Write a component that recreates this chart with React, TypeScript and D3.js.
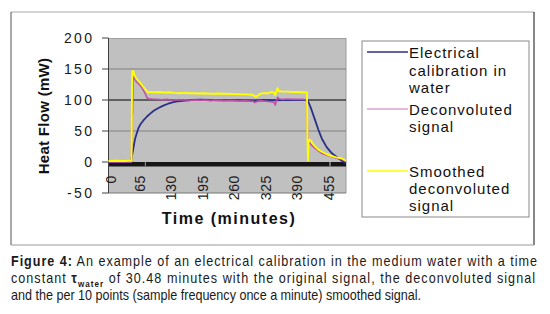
import React from "react";
import * as d3 from "d3";

const blueSeries: [number, number][] = [
  [0, 0], [20, 0], [40, 0], [46.5, 0], [48, 8], [51, 21], [55, 38], [61.5, 54], [66, 61], [72, 67],
  [79, 73], [86, 78], [94, 83], [103, 87], [113, 91], [123, 94], [134, 96.5], [144, 98], [158, 99],
  [172, 100], [190, 100.5], [210, 100], [230, 99.5], [250, 100], [270, 99.5], [290, 99], [302, 98],
  [310, 99], [320, 100], [340, 99.5], [360, 100], [380, 100], [400, 100], [411, 100], [413, 96],
  [419, 84], [426, 68], [433, 52], [440, 38], [450, 24], [461, 14], [474, 6], [483, 1], [490, -2],
];

const pinkSeries: [number, number][] = [
  [0, 0], [20, 0], [40, 0], [47.5, 0], [48, 72], [49.5, 78], [50.5, 130], [51.5, 138], [54, 134],
  [58, 129], [65, 124], [72, 116], [76, 110], [79, 104], [83, 102], [90, 101.5], [100, 101],
  [110, 100.5], [120, 101], [130, 100], [140, 100.5], [150, 100], [160, 100.5], [170, 99.5],
  [180, 100], [190, 99.5], [200, 100], [210, 99], [220, 100], [230, 99.5], [240, 99], [250, 99.5],
  [260, 99], [270, 98.5], [280, 99], [290, 98.5], [298, 98], [302, 96], [306, 97.5], [313, 99],
  [320, 98.5], [330, 97.5], [337, 97], [342, 95.5], [344, 92], [347, 100], [349, 104.5],
  [352, 101.5], [360, 101], [370, 101.5], [380, 101], [390, 101], [400, 101], [409, 100.5],
  [410, 70], [411, 40], [412, 33], [415, 31], [418, 28], [426, 22], [433, 18], [440, 14],
  [450, 11], [461, 8.6], [471, 6], [481, 4.3], [490, 1],
];

const yellowSeries: [number, number][] = [
  [0, 1.5], [15, 2], [30, 1.5], [45, 2], [47.5, 2], [48, 75], [49, 146], [51, 147], [53, 141],
  [58, 134], [62, 131], [65, 128], [69, 124], [72, 121], [76, 117], [79, 114], [82, 112], [86, 113],
  [95, 112.5], [105, 113], [115, 112], [125, 112.5], [135, 111.5], [145, 111], [155, 111.5],
  [165, 111], [175, 111], [185, 110.5], [195, 111], [205, 110.5], [215, 110], [225, 110.5],
  [235, 110], [245, 110], [255, 109.5], [265, 109.5], [275, 109], [285, 109], [295, 108.5],
  [300, 107], [304, 105], [308, 107], [313, 110], [320, 111], [330, 111], [337, 113], [341, 112],
  [344, 108], [347, 115], [349, 119], [352, 114], [360, 113.5], [370, 113.5], [380, 113],
  [390, 113], [400, 112.5], [409.5, 112], [410.5, 40], [411.5, 2], [412.5, 30], [414, 36],
  [417, 35], [420, 31], [426, 25], [433, 20], [440, 16.6], [450, 12.5], [460, 9.7], [470, 7.5],
  [481, 6], [490, 2],
];

const xTicks = [0, 65, 130, 195, 260, 325, 390, 455];
const yTicks = [-50, 0, 50, 100, 150, 200];
const gridGray = [50, 150];
const gridBlack = [100];

const legendItems = [
  { color: "#2b2f86", lines: ["Electrical", "calibration in", "water"], lineY: 52, baselines: [58, 75.5, 93] },
  { color: "#d070b8", lines: ["Deconvoluted", "signal"], lineY: 109, baselines: [115, 132] },
  { color: "#ffff00", lines: ["Smoothed", "deconvoluted", "signal"], lineY: 171, baselines: [177, 194, 211] },
];

const seriesColors = ["#2b2f86", "#c050a8", "#ffff00"];

const FONT = "Arial, 'Liberation Sans', Helvetica, sans-serif";
const CAP_SCALE = 0.9;

export default function App() {
  const x = d3.scaleLinear().domain([0, 490]).range([108.5, 346]);
  const y = d3.scaleLinear().domain([-50, 200]).range([193, 38]);
  const line = d3
    .line<[number, number]>()
    .x((d) => x(d[0]))
    .y((d) => y(d[1]));

  const [x0, x1] = x.range();
  const [yb, yt] = y.range();

  return (
    <svg
      width={550}
      height={314}
      style={{ position: "absolute", left: 0, top: 0, background: "#fff" }}
      fontFamily={FONT}
    >
      {/* outer frame */}
      <line x1={11} y1={12} x2={534} y2={12} stroke="#a8a8a8" />
      <line x1={11} y1={12} x2={11} y2={245} stroke="#555" />
      <line x1={534} y1={12} x2={534} y2={245} stroke="#111" />
      <line x1={11} y1={245} x2={534} y2={245} stroke="#999" />

      {/* plot area */}
      <rect x={x0} y={yt} width={x1 - x0} height={yb - yt} fill="#c0c0c0" />
      <line x1={x0} y1={yt + 0.5} x2={x1} y2={yt + 0.5} stroke="#a0a0a0" />
      <line x1={x1} y1={yt} x2={x1} y2={yb} stroke="#9a9a9a" />
      {gridGray.map((v) => (
        <line key={v} x1={x0} x2={x1} y1={y(v)} y2={y(v)} stroke="#808080" strokeWidth={1} />
      ))}
      {gridBlack.map((v) => (
        <line key={v} x1={x0} x2={x1} y1={y(v)} y2={y(v)} stroke="#000" strokeWidth={1} />
      ))}
      <line x1={x0} y1={yb} x2={x1} y2={yb} stroke="#777" />
      {/* dense category tick band on zero line */}
      <rect x={x0} y={y(0)} width={x1 - x0} height={4.5} fill="#161616" />
      <rect x={x(75)} y={y(0)} width={1} height={4.5} fill="#9a9a9a" />
      <rect x={x(456)} y={y(0)} width={1} height={4.5} fill="#c8c8c8" />

      {/* y axis */}
      <line x1={x0} y1={yt} x2={x0} y2={yb} stroke="#404040" />
      {yTicks.map((v) => (
        <g key={v}>
          <line x1={x0 - 6.5} x2={x0} y1={y(v)} y2={y(v)} stroke="#404040" />
          <text
            x={94.5}
            y={y(v)}
            dy="0.35em"
            textAnchor="end"
            fontSize={14}
            letterSpacing={2.4}
            fill="#1a1a1a"
          >
            {v}
          </text>
        </g>
      ))}

      {/* x tick labels */}
      {xTicks.map((t) => (
        <text
          key={t}
          transform={`translate(${x(t) + (t === 0 ? 3 : 0)},175) rotate(-90)`}
          dy="0.35em"
          textAnchor="end"
          fontSize={14}
          letterSpacing={0.6}
          fill="#1a1a1a"
        >
          {t}
        </text>
      ))}

      {/* series */}
      {[blueSeries, pinkSeries, yellowSeries].map((s, i) => (
        <path
          key={i}
          d={line(s) || ""}
          fill="none"
          stroke={seriesColors[i]}
          strokeWidth={i === 0 ? 1.8 : i === 2 ? 1.9 : 1.6}
          strokeLinejoin="round"
        />
      ))}

      {/* axis titles */}
      <text
        transform="translate(44,116) rotate(-90)"
        dy="0.35em"
        textAnchor="middle"
        fontSize={15}
        fontWeight="bold"
        letterSpacing={0.3}
        fill="#111"
      >
        Heat Flow (mW)
      </text>
      <text x={229} y={224} textAnchor="middle" fontSize={16} fontWeight="bold" letterSpacing={1.5} fill="#111">
        Time (minutes)
      </text>

      {/* legend */}
      <rect x={362} y={41} width={167} height={176} fill="#fff" stroke="#8a8a8a" />
      {legendItems.map((it, i) => (
        <g key={i}>
          <line x1={367} x2={408} y1={it.lineY} y2={it.lineY} stroke={it.color} strokeWidth={i === 1 ? 1 : 1.5} />
          {it.lines.map((l, j) => (
            <text key={j} x={409} y={it.baselines[j]} fontSize={15} letterSpacing={1} fill="#111">
              {l}
            </text>
          ))}
        </g>
      ))}

      {/* caption (justified lines 1-2, natural last line) */}
      <g transform={`translate(11,0) scale(${CAP_SCALE},1)`} fill="#1a1a1a" fontSize={14}>
        <text x={0} y={266.5} textLength={526 / CAP_SCALE} lengthAdjust="spacing">
          <tspan fontWeight="bold">Figure 4:</tspan>
          <tspan> An example of an electrical calibration in the medium water with a time</tspan>
        </text>
        <text x={0} y={283.5} textLength={524 / CAP_SCALE} lengthAdjust="spacing">
          <tspan>constant </tspan>
          <tspan fontWeight="bold">τ</tspan>
          <tspan fontWeight="bold" fontSize={9} dy={3.5}>water</tspan>
          <tspan dy={-3.5}> of 30.48 minutes with the original signal, the deconvoluted signal</tspan>
        </text>
        <text x={0} y={300.5} textLength={410 / CAP_SCALE} lengthAdjust="spacingAndGlyphs">
          and the per 10 points (sample frequency once a minute) smoothed signal.
        </text>
      </g>
    </svg>
  );
}
